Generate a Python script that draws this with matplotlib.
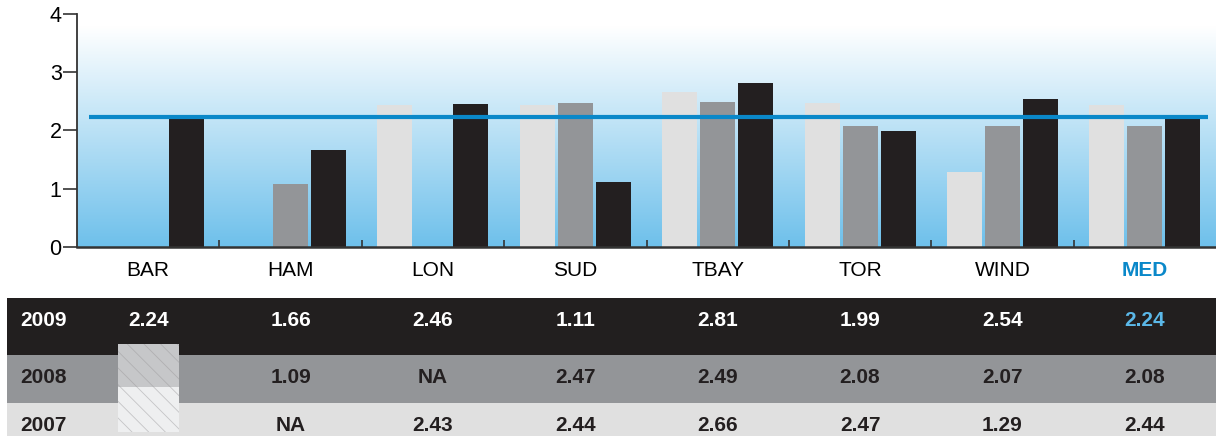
import numpy as np
import matplotlib
matplotlib.use("Agg")
import matplotlib.pyplot as plt
from matplotlib.colors import LinearSegmentedColormap
from matplotlib.patches import Rectangle

plt.rcParams['font.family'] = ['Liberation Sans', 'DejaVu Sans']
plt.rcParams['hatch.linewidth'] = 0.6

# data
sites = ['BAR', 'HAM', 'LON', 'SUD', 'TBAY', 'TOR', 'WIND', 'MED']
years = ['2007', '2008', '2009']
v2007 = [None, None, 2.43, 2.44, 2.66, 2.47, 1.29, 2.44]
v2008 = [None, 1.09, None, 2.47, 2.49, 2.08, 2.07, 2.08]
v2009 = [2.24, 1.66, 2.46, 1.11, 2.81, 1.99, 2.54, 2.24]
med_line = 2.24

bar_colors = ['#e0e0e0', '#939598', '#231f20']
row_colors = {'2009': '#221f1f', '2008': '#939598', '2007': '#e0e0e0'}
text_colors = {'2009': 'white', '2008': '#231f20', '2007': '#231f20'}

def to_arr(v):
    return np.array([np.nan if x is None else x for x in v], dtype=float)

series = [to_arr(v2007), to_arr(v2008), to_arr(v2009)]

fig = plt.figure(figsize=(12.16, 4.36), dpi=100)
ax = fig.add_axes([77 / 1216, 189 / 436, 1139 / 1216, 233 / 436])

# gradient background
grad = np.linspace(0, 1, 256).reshape(-1, 1)
cmap = LinearSegmentedColormap.from_list('bg', ['#6ec0eb', '#ffffff'])
ax.imshow(grad, extent=[0, 8, 0, 3.78], origin='lower', aspect='auto', cmap=cmap, zorder=0)

centers = np.arange(len(sites)) + 0.5
step = 0.267
width = 0.246
for k, vals in enumerate(series):
    ax.bar(centers + (k - 1) * step, vals, width=width, color=bar_colors[k], zorder=2)

ax.hlines(med_line, 0.084, 7.944, color='#0a88c9', lw=3.0, zorder=3)

ax.set_xlim(0, 8)
ax.set_ylim(0, 4)
ax.set_yticks([0, 1, 2, 3, 4])
ax.tick_params(axis='y', labelsize=15.5, length=10, width=1.2, color='#333333', pad=1)
ax.set_xticks(centers)
ax.set_xticklabels(sites, fontsize=15)
ax.tick_params(axis='x', which='major', length=0, pad=10)
ax.set_xticks(np.arange(1, 8), minor=True)
ax.tick_params(axis='x', which='minor', direction='in', length=5, width=1.2, color='#333333')
lbl = ax.get_xticklabels()[-1]
lbl.set_color('#0a88c9')
lbl.set_fontweight('bold')
for s in ['top', 'right']:
    ax.spines[s].set_visible(False)
ax.spines['left'].set_color('#333333')
ax.spines['left'].set_linewidth(1.3)
ax.spines['bottom'].set_color('#333333')
ax.spines['bottom'].set_linewidth(1.8)

# table below
tax = fig.add_axes([0, 0, 1, 1], zorder=-1)
tax.set_xlim(-77 / 1139 * 8, 8)
tax.set_ylim(436, 0)
tax.axis('off')

row_top = {'2009': 298, '2008': 355, '2007': 403}
row_bot = {'2009': 355, '2008': 403, '2007': 440}
row_txt = {'2009': 320, '2008': 377, '2007': 425}
row_vals = {'2009': v2009, '2008': v2008, '2007': v2007}
left = -70 / 1139 * 8
tfont = ['Liberation Sans Narrow', 'Liberation Sans', 'DejaVu Sans']
for yr in ['2009', '2008', '2007']:
    tax.add_patch(Rectangle((left, row_top[yr]), 8 - left, row_bot[yr] - row_top[yr],
                            color=row_colors[yr], lw=0))
    tax.text(-57 / 1139 * 8, row_txt[yr], yr, ha='left', va='center', fontsize=15,
             fontweight='bold', color=text_colors[yr], family=tfont)
    for i, v in enumerate(row_vals[yr]):
        if v is None:
            if i == 0:
                continue
            s = 'NA'
        else:
            s = f'{v:.2f}'
        c = text_colors[yr]
        if yr == '2009' and sites[i] == 'MED':
            c = '#5bb8e8'
        tax.text(centers[i], row_txt[yr], s, ha='center', va='center', fontsize=15,
                 fontweight='bold', color=c, family=tfont)

# hatched note box in BAR column
bx0 = (118 - 77) / 1139 * 8
bw = 61 / 1139 * 8
tax.add_patch(Rectangle((bx0, 344), bw, 43, facecolor='#c6c7c9', edgecolor='#b0b0b2',
                        lw=0, hatch='\\\\'))
tax.add_patch(Rectangle((bx0, 387), bw, 45, facecolor='#eeeff0', edgecolor='#c4c4c6',
                        lw=0, hatch='\\\\'))

fig.savefig('out.png', dpi=100)
